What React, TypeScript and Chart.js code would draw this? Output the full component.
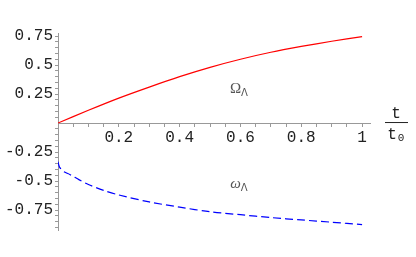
import React, { useEffect, useRef } from "react";
import { Chart, registerables } from "chart.js";
Chart.register(...registerables);

// Ω_Λ (red, solid)
const tOmega = [0, 0.1, 0.2, 0.3, 0.4, 0.5, 0.6, 0.7, 0.8, 0.9, 1.0];
const omegaLambda = [0, 0.11, 0.215, 0.31, 0.4, 0.48, 0.55, 0.61, 0.66, 0.705, 0.745];

// ω_Λ (blue, dashed)
const tW = [0, 0.005, 0.02, 0.04, 0.07, 0.1, 0.15, 0.2, 0.3, 0.4, 0.5, 0.6, 0.7, 0.8, 0.9, 1.0];
const wLambda = [-0.333, -0.38, -0.42, -0.445, -0.49, -0.53, -0.58, -0.62, -0.68, -0.725, -0.765, -0.79, -0.815, -0.835, -0.855, -0.875];

const xMajorTicks = [0.2, 0.4, 0.6, 0.8, 1];
const xTickLabels = ["0.2", "0.4", "0.6", "0.8", "1"];
const yMajorTicks = [-0.75, -0.5, -0.25, 0.25, 0.5, 0.75];
const yTickLabels = ["-0.75", "-0.5", "-0.25", "0.25", "0.5", "0.75"];

const X_MIN = 0, X_MAX = 1.026, Y_MIN = -0.922, Y_MAX = 0.776;
const MINOR = 0.05;

function labelFor(v: number, majors: number[], labels: string[]) {
  const i = majors.findIndex((m) => Math.abs(m - v) < 1e-6);
  return i >= 0 ? labels[i] : "";
}

const textPlugin = {
  id: "texts",
  afterDraw(chart: any) {
    const ctx = chart.ctx;
    const xs = chart.scales.x, ys = chart.scales.y;
    ctx.save();
    ctx.fillStyle = "#555";
    ctx.textBaseline = "alphabetic";
    const drawSym = (xv: number, yv: number, main: string, italic: boolean) => {
      const px = xs.getPixelForValue(xv), py = ys.getPixelForValue(yv);
      ctx.font = (italic ? "italic " : "") + "15px 'Liberation Serif'";
      const w = ctx.measureText(main).width;
      ctx.font = "10px 'DejaVu Sans'";
      const ws = ctx.measureText("Λ").width;
      const left = px - (w + ws) / 2;
      ctx.font = (italic ? "italic " : "") + "15px 'Liberation Serif'";
      ctx.textAlign = "left";
      ctx.fillText(main, left, py + 5);
      ctx.font = "10px 'DejaVu Sans'";
      ctx.fillText("Λ", left + w, py + 8);
    };
    drawSym(0.595, 0.3, "Ω", false);
    drawSym(0.595, -0.517, "ω", true);
    // t / t0 axis label
    const cx = 396;
    const ly = ys.getPixelForValue(0);
    ctx.fillStyle = "#222";
    ctx.font = "16px 'Liberation Mono'";
    ctx.textAlign = "center";
    ctx.fillText("t", cx, ly - 5);
    ctx.fillRect(385, ly - 1, 23, 1);
    ctx.fillText("t", cx - 4, ly + 16);
    ctx.font = "11px 'Liberation Mono'";
    ctx.fillText("0", cx + 5, ly + 18);
    ctx.restore();
  },
};

export default function App() {
  const ref = useRef<HTMLCanvasElement>(null);
  useEffect(() => {
    document.body.style.margin = "0";
    const chart = new Chart(ref.current!, {
      type: "scatter",
      data: {
        datasets: [
          {
            data: tOmega.map((t, i) => ({ x: t, y: omegaLambda[i] })),
            showLine: true,
            borderColor: "#ff0000",
            borderWidth: 1.2,
            pointRadius: 0,
            tension: 0.3,
          },
          {
            data: tW.map((t, i) => ({ x: t, y: wLambda[i] })),
            showLine: true,
            borderColor: "#0000ff",
            borderWidth: 1.2,
            borderDash: [8, 4],
            pointRadius: 0,
            tension: 0.3,
          },
        ],
      },
      options: {
        responsive: false,
        animation: false,
        layout: { padding: { left: 0, right: 46, top: 33, bottom: 27 } },
        plugins: { legend: { display: false }, tooltip: { enabled: false } },
        scales: {
          x: {
            type: "linear",
            min: X_MIN,
            max: X_MAX,
            position: { y: 0 } as any,
            afterFit: (s: any) => { s.height = 0; },
            afterBuildTicks: (s: any) => {
              const ticks = [];
              for (let i = 1; i * MINOR <= X_MAX + 1e-9; i++) ticks.push({ value: +(i * MINOR).toFixed(3) });
              s.ticks = ticks;
            },
            border: { color: "#999", width: 1 },
            grid: { drawOnChartArea: false, drawTicks: true, tickLength: 3, tickColor: "#999" },
            ticks: {
              autoSkip: false,
              maxRotation: 0,
              padding: 2,
              color: "#222",
              font: { family: "'Liberation Mono'", size: 16 },
              callback: (v: any) => labelFor(Number(v), xMajorTicks, xTickLabels),
            },
          },
          y: {
            type: "linear",
            min: Y_MIN,
            max: Y_MAX,
            position: "left",
            afterFit: (s: any) => { s.width = 58; },
            afterBuildTicks: (s: any) => {
              const ticks = [];
              for (let i = -18; i * MINOR <= Y_MAX + 1e-9; i++) if (i !== 0) ticks.push({ value: +(i * MINOR).toFixed(3) });
              s.ticks = ticks;
            },
            border: { color: "#999", width: 1 },
            grid: { drawOnChartArea: false, drawTicks: true, tickLength: 3, tickColor: "#999" },
            ticks: {
              autoSkip: false,
              padding: 2,
              color: "#222",
              font: { family: "'Liberation Mono'", size: 16 },
              callback: (v: any) => labelFor(Number(v), yMajorTicks, yTickLabels),
            },
          },
        },
      },
      plugins: [textPlugin],
    });
    return () => chart.destroy();
  }, []);
  return (
    <div style={{ position: "absolute", left: 0, top: 0, width: 416, height: 257, background: "#fff" }}>
      <canvas ref={ref} width={416} height={257} />
    </div>
  );
}
